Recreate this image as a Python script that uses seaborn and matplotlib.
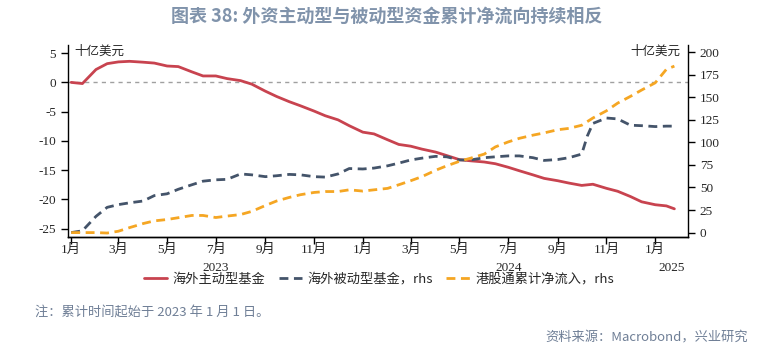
import pandas as pd
import numpy as np
import matplotlib
matplotlib.use('Agg')
import matplotlib.pyplot as plt
import matplotlib.dates as mdates
import matplotlib.transforms as mtransforms
import seaborn as sns

#semi-monthly reading dates (cumulative since 2023-01-01)
dates = ['2023-01-01', '2023-01-15', '2023-02-01', '2023-02-15', '2023-03-01', '2023-03-15',
         '2023-04-01', '2023-04-15', '2023-05-01', '2023-05-15', '2023-06-01', '2023-06-15',
         '2023-07-01', '2023-07-15', '2023-08-01', '2023-08-15', '2023-09-01', '2023-09-15',
         '2023-10-01', '2023-10-15', '2023-11-01', '2023-11-15', '2023-12-01', '2023-12-15',
         '2024-01-01', '2024-01-15', '2024-02-01', '2024-02-15', '2024-03-01', '2024-03-15',
         '2024-04-01', '2024-04-15', '2024-05-01', '2024-05-15', '2024-06-01', '2024-06-15',
         '2024-07-01', '2024-07-15', '2024-08-01', '2024-08-15', '2024-09-01', '2024-09-15',
         '2024-10-01', '2024-10-08', '2024-10-15', '2024-11-01', '2024-11-15', '2024-12-01',
         '2024-12-15', '2025-01-01', '2025-01-15', '2025-01-25']

#overseas active funds, USD bn (left axis)
active = [0.0, -0.2, 2.2, 3.2, 3.5, 3.6,
          3.45, 3.3, 2.8, 2.7, 1.8, 1.1,
          1.1, 0.65, 0.3, -0.3, -1.5, -2.4,
          -3.3, -4.0, -4.9, -5.7, -6.4, -7.4,
          -8.5, -8.8, -9.8, -10.6, -10.9, -11.4,
          -11.9, -12.5, -13.2, -13.4, -13.6, -13.9,
          -14.5, -15.1, -15.8, -16.4, -16.8, -17.2,
          -17.6, -17.5, -17.4, -18.1, -18.6, -19.5,
          -20.4, -20.9, -21.1, -21.6]

#overseas passive funds, USD bn (rhs)
passive = [0, 2, 18, 28, 31, 33,
           35, 41, 43, 48, 53, 57,
           58.5, 59, 65, 64, 62, 63,
           64.5, 64, 62, 61.5, 65, 71,
           70.5, 71.5, 74, 77, 80.5, 82.5,
           84.5, 84, 80.5, 80.5, 83, 84,
           85, 85, 83, 80, 81, 83,
           87, 107, 121, 127, 126, 119,
           118.5, 117.5, 118, 118]

#southbound connect cumulative net inflow, USD bn (rhs)
southbound = [0, 0, 0, -0.5, 1.5, 5.5,
              10, 13, 14.5, 16.5, 19, 19,
              16.7, 18.3, 20, 23.5, 30, 35,
              39, 42, 44.5, 45.5, 45.5, 47.4,
              46, 47.4, 49, 53, 57.5, 62,
              69, 74, 79, 82.5, 87, 95,
              100.5, 104.5, 108, 110.5, 114, 115.5,
              119, 123, 127, 135, 143.5, 151,
              158, 166, 181, 184.5]

labels = ['海外主动型基金', '海外被动型基金，rhs', '港股通累计净流入，rhs']
title = '图表 38: 外资主动型与被动型资金累计净流向持续相反'
note = '注：累计时间起始于 2023 年 1 月 1 日。'
source = '资料来源：Macrobond，兴业研究'
unit = '十亿美元'

df = pd.DataFrame({'date': pd.to_datetime(dates), 'active': active,
                   'passive': passive, 'southbound': southbound})

sns.set_style('ticks')
plt.rcParams['font.family'] = ['Liberation Serif', 'Noto Sans CJK SC', 'DejaVu Sans']
plt.rcParams['axes.unicode_minus'] = False
cjk = ['Noto Sans CJK SC', 'DejaVu Sans']

red = '#c8434f'
navy = '#44546a'
orange = '#f5a623'

fig = plt.figure(figsize=(7.73, 3.51), dpi=100)
ax1 = fig.add_axes([0.088, 0.325, 0.802, 0.547])
ax2 = ax1.twinx()

#zero line
ax1.axhline(0, color='#a0a0a0', lw=1, linestyle=(0, (3, 3)), zorder=1)

sns.lineplot(data=df, x='date', y='active', ax=ax1, color=red, lw=2, label=labels[0], legend=False)
sns.lineplot(data=df, x='date', y='passive', ax=ax2, color=navy, lw=2,
             linestyle=(0, (3.2, 2)), label=labels[1], legend=False)
sns.lineplot(data=df, x='date', y='southbound', ax=ax2, color=orange, lw=2,
             linestyle=(0, (3.2, 2)), label=labels[2], legend=False)

#axes limits and ticks
ax1.set_xlim(pd.Timestamp('2022-12-28'), pd.Timestamp('2025-02-11'))
ax1.set_ylim(-26.4, 6.4)
ax1.set_yticks(np.arange(-25, 6, 5))
ax2.set_ylim(-4.8, 208)
ax2.set_yticks(np.arange(0, 201, 25))

ax1.xaxis.set_major_locator(mdates.MonthLocator(bymonth=[1, 3, 5, 7, 9, 11]))
ax1.xaxis.set_major_formatter(plt.FuncFormatter(lambda v, p: '{}月'.format(mdates.num2date(v).month)))

for ax in [ax1, ax2]:
    ax.set_xlabel('')
    ax.set_ylabel('')
    ax.spines['top'].set_visible(False)
    ax.tick_params(direction='out', length=5, width=1, labelsize=9.5, color='black')
    for s in ax.spines.values():
        s.set_color('black')
        s.set_linewidth(1)
ax1.spines['right'].set_visible(False)
ax2.spines['left'].set_visible(False)
ax1.tick_params(axis='x', pad=0)

#year labels under the month ticks
trans = mtransforms.blended_transform_factory(ax1.transData, ax1.transAxes)
for yr, pos in [('2023', '2023-07-01'), ('2024', '2024-07-01'), ('2025', '2025-01-22')]:
    ax1.text(mdates.date2num(pd.Timestamp(pos)), -0.16, yr, transform=trans,
             ha='center', va='center', fontsize=9.5)

#unit labels
ax1.text(0.011, 0.965, unit, transform=ax1.transAxes, ha='left', va='center', fontsize=9, family=cjk)
ax1.text(0.987, 0.965, unit, transform=ax1.transAxes, ha='right', va='center', fontsize=9, family=cjk)

#legend below the plot
h1, l1 = ax1.get_legend_handles_labels()
h2, l2 = ax2.get_legend_handles_labels()
fig.legend(h1 + h2, l1 + l2, loc='center', bbox_to_anchor=(0.49, 0.205), ncol=3, frameon=False,
           prop={'family': cjk, 'size': 9.5}, handlelength=1.8, columnspacing=1.0, handletextpad=0.4)

fig.text(0.5, 0.955, title, ha='center', va='center', fontsize=13, fontweight='bold',
         color='#8093ab', family=cjk)
fig.text(0.045, 0.108, note, ha='left', va='center', fontsize=9.5, color='#6f7f96', family=cjk)
fig.text(0.968, 0.037, source, ha='right', va='center', fontsize=9.5, color='#6f7f96', family=cjk)

fig.savefig('out.png', dpi=100)
